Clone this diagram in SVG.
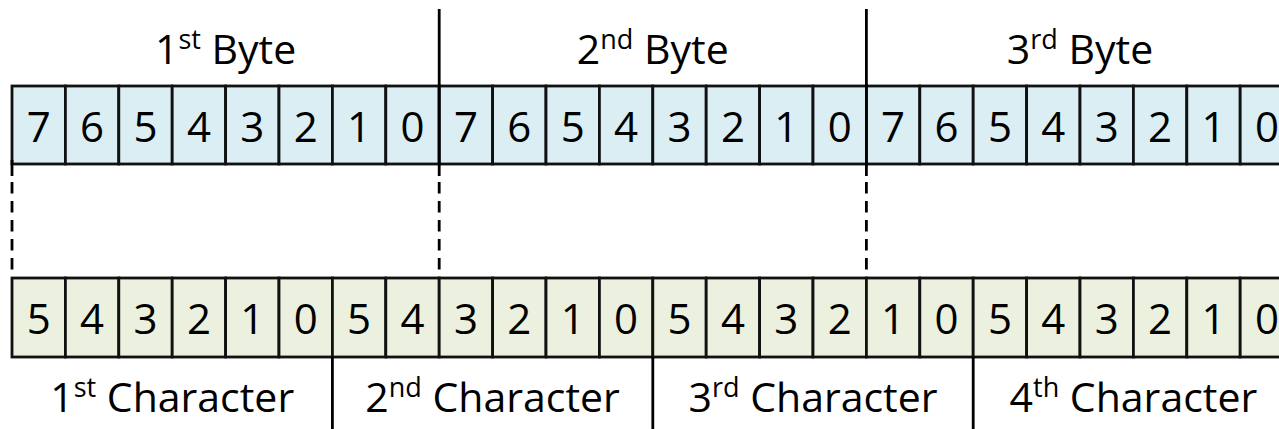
<svg xmlns="http://www.w3.org/2000/svg" width="1279" height="429" viewBox="0 0 1279 429">
  <style>
    .cell { stroke: #111; stroke-width: 2.8; }
    .byte .cell { fill: #DAEEF3; }
    .char .cell { fill: #EBF1DE; }
    .digit, .label { font-family: "Open Sans", "Noto Sans", "Liberation Sans", sans-serif; fill: #000; text-anchor: middle; }
    .digit { font-size: 42px; }
    .label { font-size: 41px; }
    .sup { font-size: 27px; }
    .rule { stroke: #000; stroke-width: 2.8; fill: none; }
    .dash { stroke-dasharray: 11.5 7.5; }
  </style>

  <!-- byte headers -->
  <g id="byte-labels">
    <text class="label" x="225.6" y="64">1<tspan class="sup" dy="-15">st</tspan><tspan dy="15"> Byte</tspan></text>
    <text class="label" x="652.8" y="64">2<tspan class="sup" dy="-15">nd</tspan><tspan dy="15"> Byte</tspan></text>
    <text class="label" x="1080" y="64">3<tspan class="sup" dy="-15">rd</tspan><tspan dy="15"> Byte</tspan></text>
  </g>

  <!-- upper row: three 8-bit bytes -->
  <g id="byte1" class="byte">
    <rect class="cell" x="12" y="86" width="53.4" height="78"/><text class="digit" x="38.7" y="142">7</text>
    <rect class="cell" x="65.4" y="86" width="53.4" height="78"/><text class="digit" x="92.1" y="142">6</text>
    <rect class="cell" x="118.8" y="86" width="53.4" height="78"/><text class="digit" x="145.5" y="142">5</text>
    <rect class="cell" x="172.2" y="86" width="53.4" height="78"/><text class="digit" x="198.9" y="142">4</text>
    <rect class="cell" x="225.6" y="86" width="53.4" height="78"/><text class="digit" x="252.3" y="142">3</text>
    <rect class="cell" x="279" y="86" width="53.4" height="78"/><text class="digit" x="305.7" y="142">2</text>
    <rect class="cell" x="332.4" y="86" width="53.4" height="78"/><text class="digit" x="359.1" y="142">1</text>
    <rect class="cell" x="385.8" y="86" width="53.4" height="78"/><text class="digit" x="412.5" y="142">0</text>
  </g>
  <g id="byte2" class="byte">
    <rect class="cell" x="439.2" y="86" width="53.4" height="78"/><text class="digit" x="465.9" y="142">7</text>
    <rect class="cell" x="492.6" y="86" width="53.4" height="78"/><text class="digit" x="519.3" y="142">6</text>
    <rect class="cell" x="546" y="86" width="53.4" height="78"/><text class="digit" x="572.7" y="142">5</text>
    <rect class="cell" x="599.4" y="86" width="53.4" height="78"/><text class="digit" x="626.1" y="142">4</text>
    <rect class="cell" x="652.8" y="86" width="53.4" height="78"/><text class="digit" x="679.5" y="142">3</text>
    <rect class="cell" x="706.2" y="86" width="53.4" height="78"/><text class="digit" x="732.9" y="142">2</text>
    <rect class="cell" x="759.6" y="86" width="53.4" height="78"/><text class="digit" x="786.3" y="142">1</text>
    <rect class="cell" x="813" y="86" width="53.4" height="78"/><text class="digit" x="839.7" y="142">0</text>
  </g>
  <g id="byte3" class="byte">
    <rect class="cell" x="866.4" y="86" width="53.4" height="78"/><text class="digit" x="893.1" y="142">7</text>
    <rect class="cell" x="919.8" y="86" width="53.4" height="78"/><text class="digit" x="946.5" y="142">6</text>
    <rect class="cell" x="973.2" y="86" width="53.4" height="78"/><text class="digit" x="999.9" y="142">5</text>
    <rect class="cell" x="1026.6" y="86" width="53.4" height="78"/><text class="digit" x="1053.3" y="142">4</text>
    <rect class="cell" x="1080" y="86" width="53.4" height="78"/><text class="digit" x="1106.7" y="142">3</text>
    <rect class="cell" x="1133.4" y="86" width="53.4" height="78"/><text class="digit" x="1160.1" y="142">2</text>
    <rect class="cell" x="1186.8" y="86" width="53.4" height="78"/><text class="digit" x="1213.5" y="142">1</text>
    <rect class="cell" x="1240.2" y="86" width="53.4" height="78"/><text class="digit" x="1266.9" y="142">0</text>
  </g>

  <!-- lower row: four 6-bit characters -->
  <g id="char1" class="char">
    <rect class="cell" x="12" y="278" width="53.4" height="79"/><text class="digit" x="38.7" y="334">5</text>
    <rect class="cell" x="65.4" y="278" width="53.4" height="79"/><text class="digit" x="92.1" y="334">4</text>
    <rect class="cell" x="118.8" y="278" width="53.4" height="79"/><text class="digit" x="145.5" y="334">3</text>
    <rect class="cell" x="172.2" y="278" width="53.4" height="79"/><text class="digit" x="198.9" y="334">2</text>
    <rect class="cell" x="225.6" y="278" width="53.4" height="79"/><text class="digit" x="252.3" y="334">1</text>
    <rect class="cell" x="279" y="278" width="53.4" height="79"/><text class="digit" x="305.7" y="334">0</text>
  </g>
  <g id="char2" class="char">
    <rect class="cell" x="332.4" y="278" width="53.4" height="79"/><text class="digit" x="359.1" y="334">5</text>
    <rect class="cell" x="385.8" y="278" width="53.4" height="79"/><text class="digit" x="412.5" y="334">4</text>
    <rect class="cell" x="439.2" y="278" width="53.4" height="79"/><text class="digit" x="465.9" y="334">3</text>
    <rect class="cell" x="492.6" y="278" width="53.4" height="79"/><text class="digit" x="519.3" y="334">2</text>
    <rect class="cell" x="546" y="278" width="53.4" height="79"/><text class="digit" x="572.7" y="334">1</text>
    <rect class="cell" x="599.4" y="278" width="53.4" height="79"/><text class="digit" x="626.1" y="334">0</text>
  </g>
  <g id="char3" class="char">
    <rect class="cell" x="652.8" y="278" width="53.4" height="79"/><text class="digit" x="679.5" y="334">5</text>
    <rect class="cell" x="706.2" y="278" width="53.4" height="79"/><text class="digit" x="732.9" y="334">4</text>
    <rect class="cell" x="759.6" y="278" width="53.4" height="79"/><text class="digit" x="786.3" y="334">3</text>
    <rect class="cell" x="813" y="278" width="53.4" height="79"/><text class="digit" x="839.7" y="334">2</text>
    <rect class="cell" x="866.4" y="278" width="53.4" height="79"/><text class="digit" x="893.1" y="334">1</text>
    <rect class="cell" x="919.8" y="278" width="53.4" height="79"/><text class="digit" x="946.5" y="334">0</text>
  </g>
  <g id="char4" class="char">
    <rect class="cell" x="973.2" y="278" width="53.4" height="79"/><text class="digit" x="999.9" y="334">5</text>
    <rect class="cell" x="1026.6" y="278" width="53.4" height="79"/><text class="digit" x="1053.3" y="334">4</text>
    <rect class="cell" x="1080" y="278" width="53.4" height="79"/><text class="digit" x="1106.7" y="334">3</text>
    <rect class="cell" x="1133.4" y="278" width="53.4" height="79"/><text class="digit" x="1160.1" y="334">2</text>
    <rect class="cell" x="1186.8" y="278" width="53.4" height="79"/><text class="digit" x="1213.5" y="334">1</text>
    <rect class="cell" x="1240.2" y="278" width="53.4" height="79"/><text class="digit" x="1266.9" y="334">0</text>
  </g>

  <!-- character captions -->
  <g id="char-labels">
    <text class="label" x="172.2" y="412">1<tspan class="sup" dy="-15">st</tspan><tspan dy="15"> Character</tspan></text>
    <text class="label" x="492.6" y="412">2<tspan class="sup" dy="-15">nd</tspan><tspan dy="15"> Character</tspan></text>
    <text class="label" x="813" y="412">3<tspan class="sup" dy="-15">rd</tspan><tspan dy="15"> Character</tspan></text>
    <text class="label" x="1133.4" y="412">4<tspan class="sup" dy="-15">th</tspan><tspan dy="15"> Character</tspan></text>
  </g>

  <!-- dividers: byte boundaries above, dashed alignment guides, character boundaries below -->
  <g id="connectors">
    <line class="rule" x1="12" y1="160" x2="12" y2="176"/>
    <line class="rule" x1="439.2" y1="9" x2="439.2" y2="176"/>
    <line class="rule" x1="866.4" y1="9" x2="866.4" y2="176"/>
    <line class="rule dash" x1="12" y1="182" x2="12" y2="270"/>
    <line class="rule dash" x1="439.2" y1="182" x2="439.2" y2="270"/>
    <line class="rule dash" x1="866.4" y1="182" x2="866.4" y2="270"/>
    <line class="rule" x1="332.4" y1="357" x2="332.4" y2="429"/>
    <line class="rule" x1="652.8" y1="357" x2="652.8" y2="429"/>
    <line class="rule" x1="973.2" y1="357" x2="973.2" y2="429"/>
  </g>
</svg>
